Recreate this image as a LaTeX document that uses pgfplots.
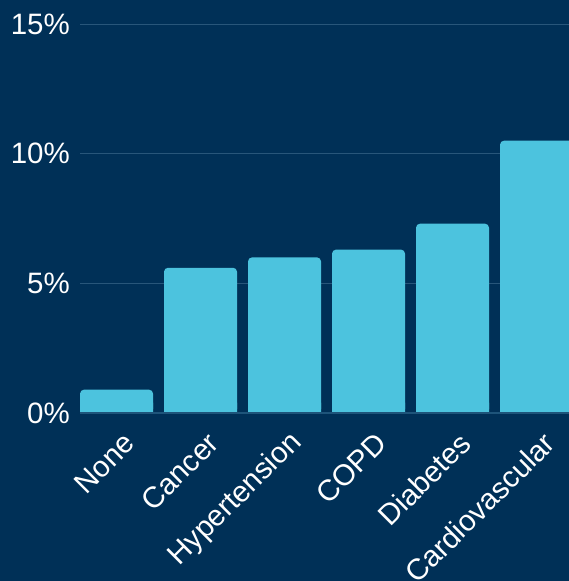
\documentclass[border=0pt]{standalone}
\usepackage{pgfplots}
\pgfplotsset{compat=1.18}
\usepackage{fontspec}
\setmainfont{Liberation Sans}
\definecolor{bg}{RGB}{0,48,87}
\definecolor{barc}{RGB}{76,195,222}
\definecolor{gridc}{RGB}{40,86,122}
\definecolor{axc}{RGB}{30,84,122}
\begin{document}
\begin{tikzpicture}
\path[use as bounding box] (0pt,0pt) rectangle (569pt,-581pt);
\fill[bg] (0pt,0pt) rectangle (569pt,-581pt);
\begin{axis}[
  at={(80pt,-413pt)}, anchor=south west,
  width=489pt, height=389pt, scale only axis,
  xmin=-0.435, xmax=5.387, ymin=0, ymax=15,
  ytick={0,5,10,15}, yticklabels={0\%,5\%,10\%,15\%},
  xtick={0,1,2,3,4,5},
  xticklabels={None,Cancer,Hypertension,COPD,Diabetes,Cardiovascular},
  major tick length=0pt,
  axis line style={draw=none},
  ymajorgrids, grid style={gridc, line width=0.9pt},
  tick label style={white, font=\fontsize{29.5}{33}\selectfont},
  yticklabel style={inner sep=0pt, xshift=-10pt},
  xticklabel style={inner sep=0pt, xshift=13pt, yshift=-25pt, rotate=45, anchor=east},
  clip=true,
]
\addplot[ybar, bar width=73pt, bar shift=0pt, fill=barc, draw=none, rounded corners=4pt]
  coordinates {(0,0.9) (1,5.6) (2,6.0) (3,6.3) (4,7.3) (5,10.5)};
\addplot[ybar, bar width=73pt, bar shift=0pt, fill=barc, draw=none]
  coordinates {(0,0.4) (1,0.4) (2,0.4) (3,0.4) (4,0.4) (5,0.4)};
\draw[axc, line width=1.2pt] (rel axis cs:0,0) -- (rel axis cs:1,0);
\end{axis}
\end{tikzpicture}
\end{document}
